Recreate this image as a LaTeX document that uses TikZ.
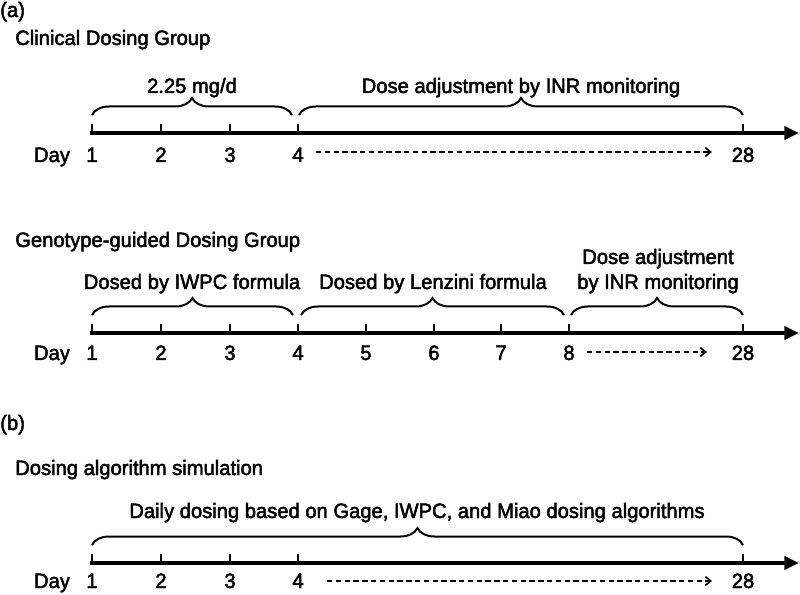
\documentclass[tikz,border=0pt]{standalone}
\usepackage{fontspec}
\setmainfont{Liberation Sans}[FakeStretch=0.97]
\usetikzlibrary{arrows.meta,decorations.pathreplacing}
\newcommand{\heavytext}[1]{\special{pdf:literal direct 2 Tr 0.35 w}#1\special{pdf:literal direct 0 Tr}}
\begin{document}
\begin{tikzpicture}[x=0.75pt,y=-0.75pt,
  txt/.style={font=\fontsize{15.6}{18}\selectfont, inner sep=0pt, anchor=base},
  ltxt/.style={txt, anchor=base west},
  axisline/.style={line width=2.4pt, -{Triangle[length=11pt,width=10pt]}},
  tickline/.style={line width=2.2pt},
  bracepath/.style={decorate, decoration={brace, amplitude=12.75pt}, line width=1.5pt},
  dasharrow/.style={line width=1.2pt, dash pattern=on 4pt off 2.6pt, -{Straight Barb[length=4pt,width=6.5pt]}}
]
\useasboundingbox (0,0) rectangle (800,595);

% ---------------- (a) Clinical ----------------
\node[ltxt] (la) at (0,17) {\heavytext{(a)}};
\node[ltxt] (t1) at (15,45) {\heavytext{Clinical Dosing Group}};

\coordinate (A0) at (90,133);
\coordinate (A1) at (799,133);
\draw[axisline] (A0) -- (A1);
\node[txt] (Aday) at (52,162) {\heavytext{Day}};
\foreach \x/\d in {92/1,161/2,230/3,298/4,743/28}{
  \draw[tickline] (\x,134) -- (\x,124);
  \node[txt] (A\d) at (\x,162) {\heavytext{\d}};
}
\coordinate (Ab1s) at (92,115); \coordinate (Ab1e) at (292,115);
\coordinate (Ab2s) at (299,115); \coordinate (Ab2e) at (743,115);
\draw[bracepath] (Ab1s) -- (Ab1e);
\draw[bracepath] (Ab2s) -- (Ab2e);
\node[txt] (AL1) at (192,93) {\heavytext{2.25 mg/d}};
\node[txt] (AL2) at (521,93) {\heavytext{Dose adjustment by INR monitoring}};
\coordinate (Ads) at (316,152); \coordinate (Ade) at (712,152);
\draw[dasharrow] (Ads) -- (Ade);

% ---------------- Genotype-guided ----------------
\node[ltxt] (t2) at (15,247) {\heavytext{Genotype-guided Dosing Group}};
\coordinate (B0) at (90,333);
\coordinate (B1) at (799,333);
\draw[axisline] (B0) -- (B1);
\node[txt] (Bday) at (52,360) {\heavytext{Day}};
\foreach \x/\d in {92/1,161/2,230/3,298/4,366/5,434/6,501/7,569/8,743/28}{
  \draw[tickline] (\x,334) -- (\x,324);
  \node[txt] (B\d) at (\x,360) {\heavytext{\d}};
}
\coordinate (Bb1s) at (92,315); \coordinate (Bb1e) at (293,315);
\coordinate (Bb2s) at (301,315); \coordinate (Bb2e) at (564,315);
\coordinate (Bb3s) at (571,315); \coordinate (Bb3e) at (743,315);
\draw[bracepath] (Bb1s) -- (Bb1e);
\draw[bracepath] (Bb2s) -- (Bb2e);
\draw[bracepath] (Bb3s) -- (Bb3e);
\node[txt] (BL1) at (192,289) {\heavytext{Dosed by IWPC formula}};
\node[txt] (BL2) at (433,289) {\heavytext{Dosed by Lenzini formula}};
\node[txt] (BL3a) at (658,264) {\heavytext{Dose adjustment}};
\node[txt] (BL3b) at (658,289) {\heavytext{by INR monitoring}};
\coordinate (Bds) at (587,352); \coordinate (Bde) at (707,352);
\draw[dasharrow] (Bds) -- (Bde);

% ---------------- (b) Simulation ----------------
\node[ltxt] (lb) at (0,430) {\heavytext{(b)}};
\node[ltxt] (t3) at (15,475) {\heavytext{Dosing algorithm simulation}};
\coordinate (C0) at (90,563);
\coordinate (C1) at (799,563);
\draw[axisline] (C0) -- (C1);
\node[txt] (Cday) at (52,588) {\heavytext{Day}};
\foreach \x/\d in {92/1,161/2,230/3,298/4,743/28}{
  \draw[tickline] (\x,564) -- (\x,554);
  \node[txt] (C\d) at (\x,588) {\heavytext{\d}};
}
\coordinate (Cb1s) at (92,545); \coordinate (Cb1e) at (743,545);
\draw[bracepath] (Cb1s) -- (Cb1e);
\node[txt] (CL1) at (417,518) {\heavytext{Daily dosing based on Gage, IWPC, and Miao dosing algorithms}};
\coordinate (Cds) at (327,581); \coordinate (Cde) at (712,581);
\draw[dasharrow] (Cds) -- (Cde);
\end{tikzpicture}
\end{document}
